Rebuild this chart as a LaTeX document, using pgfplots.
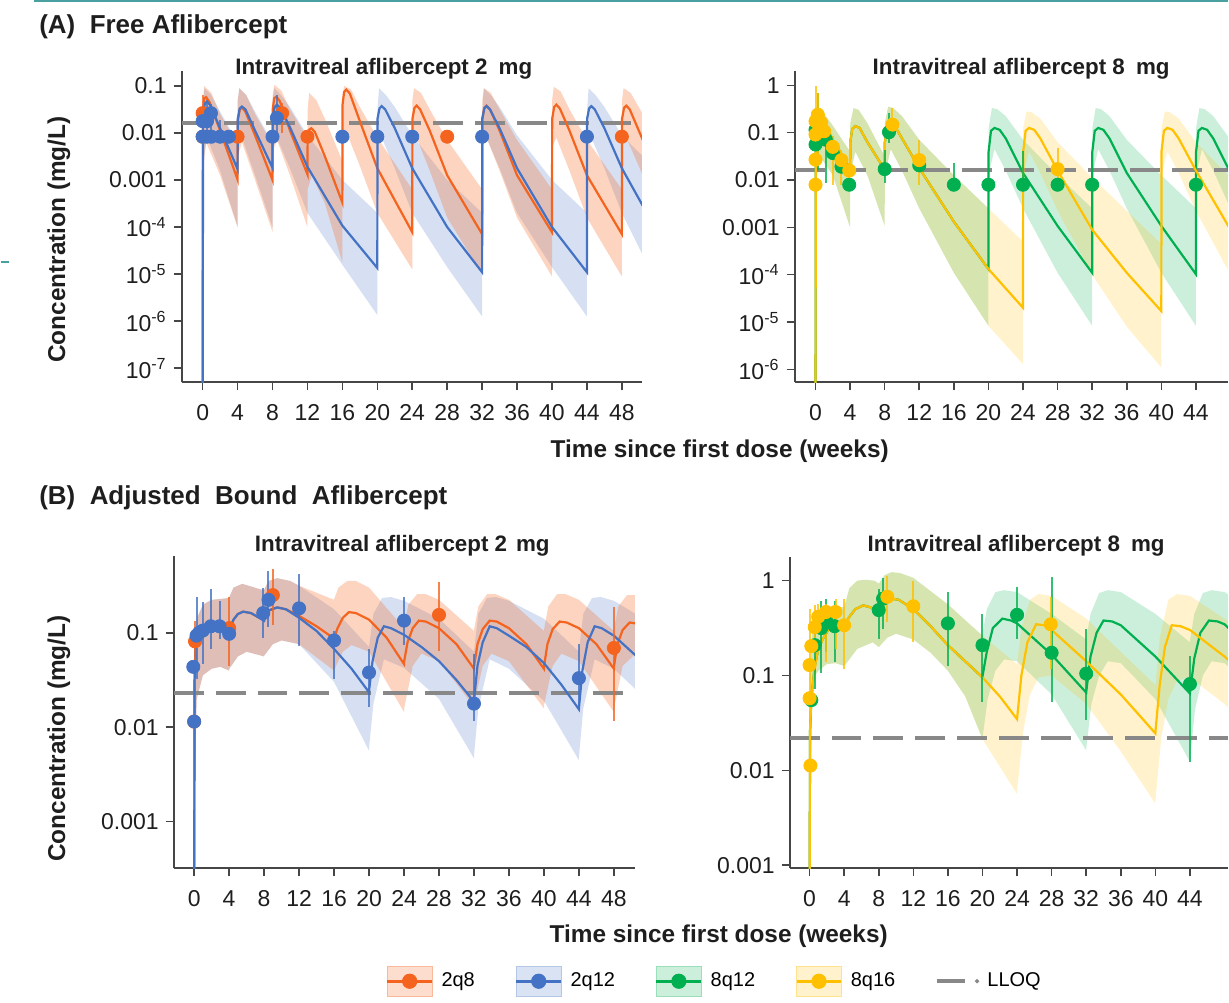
\documentclass[border=0pt]{standalone}
\usepackage{fontspec}
\setmainfont{Liberation Sans}
\usepackage{pgfplots}
\pgfplotsset{compat=1.18}

\definecolor{corange}{RGB}{244,100,30}
\definecolor{cblue}{RGB}{68,114,196}
\definecolor{cgreen}{RGB}{0,176,80}
\definecolor{cyellow}{RGB}{255,192,0}
\definecolor{axgray}{RGB}{70,70,70}
\definecolor{lloqgray}{RGB}{136,136,136}
\definecolor{txt}{RGB}{30,30,30}
\definecolor{tealline}{RGB}{72,160,160}

\newcommand\tickfont{\fontsize{11.5}{13}\selectfont}
\newcommand\legfont{\fontsize{10}{12}\selectfont}
\newcommand\titfont{\fontsize{11.2}{13}\selectfont\bfseries}
\newcommand\labfont{\fontsize{12.2}{14}\selectfont\bfseries}
\newcommand\panfont{\fontsize{13}{15}\selectfont\bfseries}

\pgfplotsset{
  pk/.style={scale only axis, anchor=south west, axis lines=left,
    axis line style={-, draw=axgray, line width=1pt},
    every tick/.append style={draw=axgray, line width=0.8pt},
    tick align=outside, major tick length=4pt,
    xtick={0,4,...,48},
    tick label style={font=\tickfont, text=txt},
    xticklabel style={yshift=-3.5pt},
    /pgf/number format/assume math mode=true},
  med/.style={color=#1, line width=1.1pt, forget plot},
  band/.style={fill=#1, fill opacity=0.25, draw=none, forget plot},
  lloq/.style={lloqgray, line width=2pt, dash pattern=on 15pt off 6pt, forget plot},
  mk/.style={only marks, mark=*, mark size=3.3pt, color=#1, forget plot,
    error bars/y dir=both, error bars/y explicit, error bars/error mark=none,
    error bars/error bar style={line width=1pt, opacity=0.8}},
}

\begin{document}
\begin{tikzpicture}
\path (0pt,0pt) rectangle (614.5pt,502pt);

% ---------------- (A) free, 2 mg ----------------
\begin{axis}[pk, at={(90.5pt,310.5pt)}, width=230.5pt, height=156pt,
  xmin=-2.4, xmax=50.29, ymin=-7.298, ymax=-0.681,
  ytick={-7,-6,-5,-4,-3,-2,-1},
  yticklabels={{10\textsuperscript{-7}},{10\textsuperscript{-6}},{10\textsuperscript{-5}},{10\textsuperscript{-4}},{0.001},{0.01},{0.1}}]
% 90% band, 2q12 (upper edge, then lower edge backwards)
\addplot[band=cblue, fill opacity=0.22] coordinates {(0,-3) (0.05,-1.5) (0.2,-1.05) (1,-1.2) (2,-1.55) (4,-2.2) (4.02,-1.3) (4.2,-1.05) (5,-1.2) (6,-1.55) (8,-2.2) (8.02,-1.3) (8.2,-1.05) (9,-1.2) (10,-1.45) (12,-2.05) (16,-3.0) (20,-3.7) (20.02,-1.5) (20.2,-1.05) (21,-1.2) (22,-1.45) (24,-2.05) (28,-3.0) (32,-3.7) (32.02,-1.5) (32.2,-1.05) (33,-1.2) (34,-1.45) (36,-2.05) (40,-3.0) (44,-3.7) (44.02,-1.5) (44.2,-1.05) (45,-1.2) (46,-1.45) (48,-2.05) (50.4,-2.5)
 (50.4,-4.6) (48,-3.7) (46,-2.75) (44.5,-2.1) (44.02,-2.3) (44,-5.9) (40,-4.85) (36,-3.7) (34,-2.75) (32.5,-2.1) (32.02,-2.3) (32,-5.9) (28,-4.85) (24,-3.7) (22,-2.75) (20.5,-2.1) (20.02,-2.3) (20,-5.87) (16,-4.8) (12,-3.7) (10,-2.75) (8.5,-2.1) (8.02,-2.3) (8,-4.0) (6,-2.9) (4.5,-2.1) (4.02,-2.3) (4,-4.0) (2,-2.8) (0.5,-2.1) (0.05,-2.6)} --cycle;
% 90% band, 2q8
\addplot[band=corange, fill opacity=0.28] coordinates {(0,-3) (0.05,-1.5) (0.15,-1.0) (1,-1.15) (2,-1.6) (4,-2.25) (4.02,-1.3) (4.2,-1.05) (5,-1.2) (6,-1.6) (8,-2.25) (8.02,-1.2) (8.2,-0.98) (9,-1.1) (10,-1.5) (12,-2.1) (12.02,-1.5) (12.2,-1.15) (13,-1.3) (14,-1.7) (16,-2.6) (16.02,-1.2) (16.2,-1.0) (17,-1.08) (18,-1.45) (20,-2.1) (24,-3.2) (24.02,-1.3) (24.2,-1.05) (25,-1.15) (26,-1.5) (28,-2.15) (32,-3.2) (32.02,-1.3) (32.2,-1.05) (33,-1.15) (34,-1.5) (36,-2.15) (40,-3.2) (40.02,-1.3) (40.2,-1.02) (41,-1.12) (42,-1.5) (44,-2.15) (48,-3.2) (48.02,-1.3) (48.2,-1.05) (49,-1.15) (50.4,-1.6)
 (50.4,-2.9) (48.5,-2.1) (48.02,-2.3) (48,-5.05) (44,-3.8) (42,-2.8) (40.5,-2.1) (40.02,-2.3) (40,-5.05) (36,-3.8) (34,-2.8) (32.5,-2.1) (32.02,-2.3) (32,-5.0) (28,-3.8) (26,-2.8) (24.5,-2.1) (24.02,-2.3) (24,-4.9) (20,-3.7) (18,-2.7) (16.5,-2.0) (16.02,-2.2) (16,-4.75) (14,-3.5) (12.5,-2.9) (12.02,-3.2) (12,-4.0) (10,-2.9) (8.5,-2.15) (8.02,-2.4) (8,-4.1) (6,-3.0) (4.5,-2.2) (4.02,-2.5) (4,-4.0) (2,-2.9) (0.4,-2.2) (0.05,-2.8)} --cycle;
\addplot[lloq] coordinates {(-2.4,-1.79) (50.3,-1.79)};
\addplot[med=corange] coordinates {(0,-8) (0.03,-1.5) (0.2,-1.26) (0.4,-1.24) (0.8,-1.35) (2,-1.95) (4,-2.99) (4.02,-1.75) (4.25,-1.5) (4.5,-1.46) (4.9,-1.55) (6,-2.05) (8,-3.0) (8.02,-1.5) (8.2,-1.26) (8.45,-1.23) (8.85,-1.33) (10,-1.95) (12,-2.88) (12.02,-2.2) (12.2,-1.93) (12.45,-1.9) (12.85,-1.98) (14,-2.5) (16,-3.48) (16.02,-1.4) (16.2,-1.13) (16.45,-1.08) (16.85,-1.16) (18,-1.75) (20,-2.75) (24,-4.11) (24.02,-1.7) (24.25,-1.47) (24.5,-1.42) (24.9,-1.5) (26,-1.95) (28,-2.9) (32,-4.15) (32.02,-1.7) (32.25,-1.47) (32.5,-1.42) (32.9,-1.5) (34,-1.95) (36,-2.9) (40,-4.11) (40.02,-1.7) (40.25,-1.45) (40.5,-1.40) (40.9,-1.48) (42,-1.95) (44,-2.9) (48,-4.15) (48.02,-1.7) (48.25,-1.47) (48.5,-1.42) (48.9,-1.5) (50.4,-2.15)};
\addplot[med=cblue] coordinates {(0,-8) (0.05,-1.6) (0.25,-1.38) (0.5,-1.33) (0.9,-1.42) (2,-1.9) (4,-2.77) (4.02,-1.7) (4.25,-1.48) (4.5,-1.44) (4.9,-1.5) (6,-1.95) (8,-2.74) (8.02,-1.65) (8.25,-1.45) (8.5,-1.40) (8.9,-1.47) (10,-1.88) (12,-2.72) (16,-3.97) (20,-4.87) (20.02,-1.7) (20.25,-1.48) (20.5,-1.43) (20.9,-1.5) (22,-1.9) (24,-2.75) (28,-4.0) (32,-4.96) (32.02,-1.7) (32.25,-1.48) (32.5,-1.43) (32.9,-1.5) (34,-1.9) (36,-2.75) (40,-4.0) (44,-4.96) (44.02,-1.7) (44.25,-1.48) (44.5,-1.43) (44.9,-1.5) (46,-1.9) (48,-2.75) (50.4,-3.55)};
\addplot[mk=corange] coordinates {(0,-2.08) +- (0,0) (0,-1.58) += (0,0.39) -= (0,0.3) (4,-2.08) +- (0,0) (9.1,-1.58) += (0,0.21) -= (0,0.42) (12,-2.08) +- (0,0) (28,-2.08) +- (0,0) (48,-2.08) +- (0,0)};
\addplot[mk=cblue] coordinates {(0,-2.08) +- (0,0) (0.5,-2.08) +- (0,0) (1.0,-2.08) +- (0,0) (2.0,-2.08) += (0,0.36) -= (0,0.06) (3.0,-2.08) +- (0,0) (8,-2.08) +- (0,0) (16,-2.08) +- (0,0) (20,-2.08) +- (0,0) (24,-2.08) +- (0,0) (32,-2.08) +- (0,0) (44,-2.08) +- (0,0) (0,-1.75) +- (0,0) (0.5,-1.75) += (0,0.45) -= (0,0.33) (0.95,-1.58) += (0,0.2) -= (0,0.5) (8.5,-1.68) += (0,0.49) -= (0,0.42)};
\end{axis}

% ---------------- (A) free, 8 mg ----------------
\begin{axis}[pk, at={(397.5pt,310.5pt)}, width=217pt, height=156pt,
  xmin=-2.42, xmax=47.69, ymin=-6.274, ymax=0.306, xtick={0,4,...,44},
  ytick={-6,-5,-4,-3,-2,-1,0},
  yticklabels={{10\textsuperscript{-6}},{10\textsuperscript{-5}},{10\textsuperscript{-4}},{0.001},{0.01},{0.1},{1}}]
\addplot[band=cgreen, fill opacity=0.2] coordinates {(0,-2) (0.05,-1.0) (0.2,-0.5) (1,-0.6) (2,-0.85) (4,-1.4) (4.02,-0.8) (4.4,-0.48) (5,-0.52) (6,-0.8) (8,-1.5) (8.02,-0.8) (8.4,-0.45) (9,-0.48) (10,-0.65) (12,-1.15) (16,-1.9) (20,-2.6) (20.02,-0.9) (20.4,-0.48) (21,-0.5) (22,-0.65) (24,-1.15) (28,-1.9) (32,-2.6) (32.02,-0.9) (32.4,-0.48) (33,-0.5) (34,-0.65) (36,-1.15) (40,-1.9) (44,-2.6) (44.02,-0.9) (44.4,-0.48) (45,-0.5) (46,-0.65) (48,-1.15) (50.4,-1.75)
 (50.4,-3.5) (48,-2.6) (46,-1.8) (44.7,-1.35) (44.02,-1.9) (44,-5.08) (40,-3.96) (36,-2.6) (34,-1.8) (32.7,-1.35) (32.02,-1.9) (32,-5.08) (28,-3.96) (24,-2.6) (22,-1.8) (20.7,-1.35) (20.02,-1.9) (20,-5.08) (16,-3.96) (12,-2.6) (10,-1.8) (8.7,-1.35) (8.02,-1.9) (8,-2.97) (6,-1.9) (4.6,-1.4) (4.02,-1.9) (4,-3.0) (2,-1.9) (0.5,-1.5) (0.05,-2.0)} --cycle;
\addplot[band=cyellow, fill opacity=0.2] coordinates {(0,-2) (0.05,-1.0) (0.2,-0.5) (1,-0.6) (2,-0.85) (4,-1.4) (4.02,-0.8) (4.4,-0.48) (5,-0.52) (6,-0.8) (8,-1.5) (8.02,-0.8) (8.4,-0.45) (9,-0.48) (10,-0.65) (12,-1.15) (16,-1.9) (20,-2.6) (24,-3.3) (24.02,-0.9) (24.4,-0.55) (25,-0.57) (26,-0.7) (28,-1.2) (32,-1.95) (36,-2.65) (40,-3.35) (40.02,-0.9) (40.4,-0.55) (41,-0.57) (42,-0.7) (44,-1.2) (48,-1.95) (50.4,-2.35)
 (50.4,-4.65) (48,-4.0) (44,-2.65) (42,-1.85) (40.7,-1.4) (40.02,-1.9) (40,-5.96) (36,-5.1) (32,-4.0) (28,-2.65) (26,-1.85) (24.7,-1.4) (24.02,-1.9) (24,-5.89) (20,-5.08) (16,-3.96) (12,-2.6) (10,-1.8) (8.7,-1.35) (8.02,-1.9) (8,-2.97) (6,-1.9) (4.6,-1.4) (4.02,-1.9) (4,-3.0) (2,-1.9) (0.5,-1.5) (0.05,-2.0)} --cycle;
\addplot[lloq] coordinates {(-2.42,-1.78) (50.4,-1.78)};
\addplot[med=cgreen] coordinates {(0,-8) (0.03,-1.2) (0.2,-0.78) (0.5,-0.72) (1,-0.8) (2,-1.15) (4,-1.75) (4.02,-1.2) (4.25,-0.92) (4.6,-0.86) (5.1,-0.9) (6,-1.2) (8,-1.78) (8.02,-1.2) (8.3,-0.92) (8.8,-0.86) (9.3,-0.9) (10,-1.12) (12,-1.75) (16,-2.88) (20,-3.88) (20.02,-1.4) (20.3,-0.96) (20.7,-0.9) (21.3,-0.94) (22,-1.12) (24,-1.85) (28,-2.97) (32,-3.96) (32.02,-1.4) (32.3,-0.96) (32.7,-0.9) (33.3,-0.94) (34,-1.12) (36,-1.85) (40,-2.97) (44,-3.99) (44.02,-1.4) (44.3,-0.96) (44.7,-0.9) (45.3,-0.94) (46,-1.12) (48,-1.85) (50.4,-2.6)};
\addplot[med=cyellow] coordinates {(0,-8) (0.03,-1.2) (0.2,-0.78) (0.5,-0.72) (1,-0.8) (2,-1.15) (4,-1.75) (4.02,-1.2) (4.25,-0.92) (4.6,-0.86) (5.1,-0.9) (6,-1.2) (8,-1.78) (8.02,-1.2) (8.3,-0.92) (8.8,-0.86) (9.3,-0.9) (10,-1.12) (12,-1.75) (16,-2.88) (20,-3.88) (24,-4.70) (24.02,-1.4) (24.3,-0.96) (24.7,-0.9) (25.3,-0.94) (26,-1.12) (28,-1.8) (32,-3.05) (36,-3.96) (40,-4.77) (40.02,-1.4) (40.3,-0.96) (40.7,-0.9) (41.3,-0.94) (42,-1.12) (44,-1.8) (48,-3.05) (50.4,-3.6)};
\addplot[mk=cgreen] coordinates {(0,-0.94) +- (0,0) (0,-1.25) +- (0,0) (0.3,-0.94) += (0,0.78) -= (0,0.84) (0.65,-1.11) +- (0,0) (1.2,-1.15) += (0,0.43) -= (0,0.91) (2,-1.43) +- (0,0) (3,-1.72) +- (0,0) (3.9,-2.10) +- (0,0) (8,-1.77) += (0,0.41) -= (0,0.29) (8.5,-0.99) += (0,0.41) -= (0,0.23) (12,-1.69) +- (0,0) (16,-2.10) += (0,0.46) -= (0,0) (20,-2.10) +- (0,0) (24,-2.10) += (0,0.71) -= (0,0) (28,-2.10) +- (0,0) (32,-2.10) +- (0,0) (44,-2.10) +- (0,0)};
\addplot[mk=cyellow] coordinates {(0,-2.10) +- (0,0) (0,-1.57) +- (0,0) (0,-1.04) += (0,1.02) -= (0,1.09) (0,-0.76) +- (0,0) (0.27,-0.62) += (0,0.46) -= (0,0.95) (0.65,-0.79) +- (0,0) (1.0,-0.97) +- (0,0) (2.0,-1.30) += (0,0.22) -= (0,0.8) (3.0,-1.58) += (0,0.22) -= (0,0.52) (3.9,-1.80) += (0,0.16) -= (0,0.19) (8.9,-0.83) += (0,0.35) -= (0,0.14) (12,-1.58) += (0,0.43) -= (0,0.52) (28,-1.77) += (0,0.45) -= (0,0.22)};
\end{axis}

% ---------------- (B) bound, 2 mg ----------------
\begin{axis}[pk, at={(86.5pt,67pt)}, width=231pt, height=156.5pt,
  xmin=-2.34, xmax=50.4, ymin=-3.497, ymax=-0.185,
  ytick={-3,-2,-1}, yticklabels={{0.001},{0.01},{0.1}},
  legend style={at={(0.4589,-0.361)}, anchor=west, draw=none, fill=none,
    inner sep=0pt, font=\legfont, legend columns=5,
    /tikz/every even column/.append style={column sep=18pt}},
  legend cell align=left]
\addplot[band=cblue, fill opacity=0.22] coordinates {(0,-3) (0.05,-1.2) (0.3,-0.85) (1,-0.7) (2,-0.65) (4,-0.63) (4.02,-0.62) (4.5,-0.52) (5.5,-0.48) (8,-0.55) (8.02,-0.54) (8.5,-0.45) (9.5,-0.42) (11,-0.45) (12,-0.5) (16,-0.75) (20,-1.15) (20.02,-1.13) (20.5,-0.8) (21.5,-0.63) (22.5,-0.62) (24,-0.66) (28,-0.85) (32,-1.2) (32.02,-1.18) (32.5,-0.8) (33.5,-0.63) (34.5,-0.62) (36,-0.66) (40,-0.85) (44,-1.2) (44.02,-1.18) (44.5,-0.8) (45.5,-0.63) (46.5,-0.62) (48,-0.66) (50.5,-0.8)
 (50.5,-1.6) (48,-1.38) (45.8,-1.28) (44.5,-1.8) (44.02,-2.3) (44,-2.35) (40,-1.72) (36,-1.38) (33.8,-1.28) (32.5,-1.8) (32.02,-2.28) (32,-2.33) (28,-1.7) (24,-1.37) (21.7,-1.28) (20.5,-1.75) (20.02,-2.2) (20,-2.25) (16,-1.52) (12,-1.12) (10,-1.08) (9,-1.12) (8.02,-1.24) (8,-1.25) (6,-1.2) (5,-1.25) (4.02,-1.38) (4,-1.4) (3,-1.36) (2,-1.38) (1,-1.45) (0.3,-1.7) (0.05,-2.5)} --cycle;
\addplot[band=corange, fill opacity=0.28] coordinates {(0,-3) (0.05,-1.2) (0.3,-0.85) (1,-0.7) (2,-0.65) (4,-0.63) (4.02,-0.62) (4.5,-0.52) (5.5,-0.48) (8,-0.55) (8.02,-0.54) (8.5,-0.45) (9.5,-0.42) (11,-0.45) (12,-0.5) (16,-0.65) (16.02,-0.64) (16.5,-0.52) (17.5,-0.45) (18.5,-0.45) (20,-0.52) (24,-0.95) (24.02,-0.93) (24.5,-0.7) (25.5,-0.59) (26.5,-0.59) (28,-0.65) (32,-0.98) (32.02,-0.96) (32.5,-0.72) (33.5,-0.59) (34.5,-0.59) (36,-0.65) (40,-0.98) (40.02,-0.96) (40.5,-0.72) (41.5,-0.59) (42.5,-0.59) (44,-0.65) (48,-0.98) (48.02,-0.96) (48.5,-0.72) (49.5,-0.6) (50.5,-0.6)
 (50.5,-1.22) (49,-1.35) (48.02,-1.8) (48,-1.84) (44,-1.3) (42,-1.22) (41,-1.35) (40.02,-1.76) (40,-1.8) (36,-1.3) (34,-1.22) (33,-1.35) (32.02,-1.75) (32,-1.78) (28,-1.3) (26,-1.22) (25,-1.35) (24.02,-1.8) (24,-1.84) (20,-1.2) (18,-1.13) (17,-1.2) (16.02,-1.39) (16,-1.4) (12,-1.12) (10,-1.08) (9,-1.12) (8.02,-1.24) (8,-1.25) (6,-1.2) (5,-1.25) (4.02,-1.38) (4,-1.4) (3,-1.36) (2,-1.38) (1,-1.45) (0.3,-1.7) (0.05,-2.5)} --cycle;
\addplot[lloq] coordinates {(-2.34,-1.64) (50.4,-1.64)};
\addplot[med=corange] coordinates {(0,-4) (0.05,-1.5) (0.15,-1.15) (0.4,-1.05) (1,-0.99) (2,-0.95) (2.7,-0.93) (3.5,-0.95) (4,-0.98) (4.02,-0.97) (4.5,-0.86) (5,-0.8) (5.6,-0.775) (6.5,-0.79) (8,-0.87) (8.02,-0.86) (8.6,-0.76) (9.5,-0.73) (10.5,-0.75) (12,-0.82) (14,-0.93) (16,-1.06) (16.02,-1.05) (16.4,-0.95) (17,-0.84) (17.7,-0.78) (18.5,-0.79) (20,-0.86) (22,-1.05) (24,-1.33) (24.02,-1.3) (24.4,-1.1) (25,-0.95) (25.7,-0.87) (26.5,-0.88) (28,-0.95) (30,-1.12) (32,-1.38) (32.02,-1.35) (32.4,-1.12) (33,-0.96) (33.8,-0.87) (34.6,-0.88) (36,-0.95) (38,-1.12) (40,-1.38) (40.02,-1.35) (40.4,-1.12) (41,-0.96) (41.8,-0.88) (42.6,-0.89) (44,-0.95) (46,-1.12) (48,-1.38) (48.02,-1.35) (48.4,-1.12) (49,-0.97) (49.8,-0.89) (50.5,-0.9)};
\addplot[med=cblue] coordinates {(0,-4) (0.05,-1.5) (0.15,-1.15) (0.4,-1.05) (1,-0.99) (2,-0.95) (2.7,-0.93) (3.5,-0.95) (4,-0.98) (4.02,-0.97) (4.5,-0.86) (5,-0.8) (5.6,-0.775) (6.5,-0.79) (8,-0.87) (8.02,-0.86) (8.6,-0.76) (9.5,-0.73) (10.5,-0.75) (12,-0.84) (14,-0.98) (16,-1.17) (18,-1.38) (20,-1.63) (20.02,-1.6) (20.4,-1.3) (21,-1.05) (21.7,-0.93) (22.5,-0.95) (24,-1.02) (26,-1.15) (28,-1.3) (30,-1.5) (32,-1.73) (32.02,-1.7) (32.4,-1.35) (33,-1.1) (33.8,-0.93) (34.6,-0.95) (36,-1.03) (38,-1.15) (40,-1.32) (42,-1.55) (44,-1.81) (44.02,-1.78) (44.4,-1.4) (45,-1.1) (45.8,-0.93) (46.6,-0.95) (48,-1.03) (50.5,-1.24)};
\addplot[mk=corange] coordinates {(0.1,-1.09) += (0,0.22) -= (0,0.26) (0,-1.94) +- (0,0) (4,-0.95) += (0,0.33) -= (0,0.40) (9,-0.60) += (0,0.28) -= (0,0.32) (28,-0.81) += (0,0.35) -= (0,0.38) (48,-1.16) += (0,0.43) -= (0,0.77)};
\addplot[mk=cblue] coordinates {(-0.1,-1.36) +- (0,0) (0,-1.94) +- (0,0) (0.27,-1.03) += (0,0.41) -= (0,0.46) (0.55,-1.0) +- (0,0) (1,-0.975) += (0,0.3) -= (0,0.35) (1.9,-0.93) += (0,0.4) -= (0,0.24) (2.9,-0.93) += (0,0.27) -= (0,0.13) (4,-1.01) +- (0,0) (7.9,-0.79) += (0,0.27) -= (0,0.26) (8.5,-0.65) += (0,0.31) -= (0,0.29) (12,-0.74) += (0,0.365) -= (0,0.395) (16,-1.08) += (0,0.105) -= (0,0.41) (20,-1.42) += (0,0.25) -= (0,0.37) (24,-0.87) += (0,0.25) -= (0,0.26) (32,-1.75) += (0,0.53) -= (0,0.18) (44,-1.48) += (0,0.36) -= (0,0.34)};
\addlegendimage{legend image code/.code={
  \draw[draw=corange!45, fill=corange!22, line width=0.5pt] (0pt,-7.5pt) rectangle (22.5pt,7.5pt);
  \draw[corange, line width=1.5pt] (0pt,0pt) -- (22.5pt,0pt);
  \fill[corange] (11.25pt,0pt) circle (3.6pt);
  \path (25pt,0pt);}}
\addlegendentry{2q8}
\addlegendimage{legend image code/.code={
  \draw[draw=cblue!40, fill=cblue!20, line width=0.5pt] (0pt,-7.5pt) rectangle (22.5pt,7.5pt);
  \draw[cblue, line width=1.5pt] (0pt,0pt) -- (22.5pt,0pt);
  \fill[cblue] (11.25pt,0pt) circle (3.6pt);
  \path (25pt,0pt);}}
\addlegendentry{2q12}
\addlegendimage{legend image code/.code={
  \draw[draw=cgreen!40, fill=cgreen!20, line width=0.5pt] (0pt,-7.5pt) rectangle (22.5pt,7.5pt);
  \draw[cgreen, line width=1.5pt] (0pt,0pt) -- (22.5pt,0pt);
  \fill[cgreen] (11.25pt,0pt) circle (3.6pt);
  \path (25pt,0pt);}}
\addlegendentry{8q12}
\addlegendimage{legend image code/.code={
  \draw[draw=cyellow!45, fill=cyellow!20, line width=0.5pt] (0pt,-7.5pt) rectangle (22.5pt,7.5pt);
  \draw[cyellow, line width=1.5pt] (0pt,0pt) -- (22.5pt,0pt);
  \fill[cyellow] (11.25pt,0pt) circle (3.6pt);
  \path (25pt,0pt);}}
\addlegendentry{8q16}
\addlegendimage{legend image code/.code={
  \draw[lloqgray, line width=2pt] (0pt,0pt) -- (14pt,0pt);
  \fill[lloqgray] (20pt,0pt) circle (0.9pt);
  \path (23pt,0pt);}}
\addlegendentry{LLOQ}
\end{axis}

% ---------------- (B) bound, 8 mg ----------------
\begin{axis}[pk, at={(395pt,67pt)}, width=219.5pt, height=156pt,
  xmin=-2.31, xmax=48.38, ymin=-3.035, ymax=0.25, xtick={0,4,...,44},
  ytick={-3,-2,-1,0}, yticklabels={{0.001},{0.01},{0.1},{1}}]
\addplot[band=cgreen, fill opacity=0.2] coordinates {(0,-3) (0.05,-1.0) (0.3,-0.55) (0.8,-0.35) (1.5,-0.28) (3,-0.27) (4,-0.28) (4.02,-0.27) (4.6,-0.08) (5.5,0.0) (6.5,0.01) (7.5,0.0) (8,-0.03) (8.02,-0.03) (8.7,0.06) (9.5,0.09) (10.5,0.08) (12,0.03) (16,-0.25) (20,-0.58) (20.02,-0.55) (20.5,-0.3) (21.5,-0.12) (22.5,-0.1) (24,-0.12) (28,-0.35) (32,-0.62) (32.02,-0.6) (32.5,-0.35) (33.5,-0.13) (34.5,-0.1) (36,-0.12) (40,-0.35) (44,-0.65) (44.02,-0.62) (44.5,-0.35) (45.5,-0.13) (46.5,-0.1) (48,-0.12) (51.1,-0.3)
 (51.1,-1.1) (48,-0.87) (46.5,-0.85) (45.5,-1.0) (44.6,-1.35) (44.02,-1.88) (44,-1.91) (40,-1.25) (36,-0.87) (34.5,-0.85) (33.5,-1.0) (32.6,-1.3) (32.02,-1.76) (32,-1.79) (28,-1.2) (24,-0.85) (22.5,-0.83) (21.5,-0.95) (20.6,-1.25) (20.02,-1.65) (20,-1.67) (18,-1.22) (16,-0.95) (14,-0.76) (12,-0.62) (10,-0.56) (9,-0.6) (8.02,-0.7) (8,-0.7) (7.3,-0.65) (5.5,-0.72) (4.02,-0.9) (4,-0.9) (3,-0.87) (2,-0.88) (1,-0.95) (0.4,-1.04) (0.05,-2.2)} --cycle;
\addplot[band=cyellow, fill opacity=0.2] coordinates {(0,-3) (0.05,-1.0) (0.3,-0.55) (0.8,-0.35) (1.5,-0.28) (3,-0.27) (4,-0.28) (4.02,-0.27) (4.6,-0.08) (5.5,0.0) (6.5,0.01) (7.5,0.0) (8,-0.03) (8.02,-0.03) (8.7,0.06) (9.5,0.09) (10.5,0.08) (12,0.03) (16,-0.25) (20,-0.58) (24,-0.88) (24.02,-0.86) (24.5,-0.5) (25.5,-0.2) (26.5,-0.14) (28,-0.16) (32,-0.4) (36,-0.75) (40,-1.1) (40.02,-1.08) (40.5,-0.6) (41.5,-0.2) (42.5,-0.14) (44,-0.16) (48,-0.4) (51.1,-0.62)
 (51.1,-1.6) (48,-1.3) (44,-1.02) (42.5,-1.05) (41.5,-1.25) (40.7,-1.65) (40.02,-2.3) (40,-2.35) (36,-1.8) (32,-1.3) (28,-1.0) (26.5,-1.02) (25.5,-1.2) (24.7,-1.6) (24.02,-2.2) (24,-2.25) (20,-1.67) (18,-1.22) (16,-0.95) (14,-0.76) (12,-0.62) (10,-0.56) (9,-0.6) (8.02,-0.7) (8,-0.7) (7.3,-0.65) (5.5,-0.72) (4.02,-0.9) (4,-0.9) (3,-0.87) (2,-0.88) (1,-0.95) (0.4,-1.04) (0.05,-2.2)} --cycle;
\addplot[lloq] coordinates {(-2.31,-1.66) (51.1,-1.66)};
\addplot[med=cgreen] coordinates {(0,-4) (0.05,-1.6) (0.2,-1.25) (0.6,-0.9) (1,-0.73) (1.5,-0.62) (2.3,-0.5) (3.1,-0.46) (4,-0.48) (4.02,-0.48) (4.6,-0.38) (5.3,-0.3) (6.2,-0.26) (7,-0.28) (8,-0.33) (8.02,-0.33) (8.6,-0.24) (9.4,-0.19) (10.3,-0.2) (12,-0.3) (14,-0.48) (16,-0.68) (18,-0.85) (20,-1.02) (20.02,-1.0) (20.5,-0.75) (21.2,-0.5) (22.3,-0.40) (23.3,-0.42) (24,-0.45) (28,-0.78) (32,-1.18) (32.02,-1.16) (32.5,-0.8) (33.2,-0.55) (34,-0.42) (35,-0.43) (36,-0.47) (40,-0.8) (44,-1.19) (44.02,-1.17) (44.5,-0.82) (45.2,-0.55) (46.2,-0.42) (47.2,-0.43) (48,-0.46) (51.1,-0.72)};
\addplot[med=cyellow] coordinates {(0,-4) (0.05,-1.6) (0.2,-1.25) (0.6,-0.9) (1,-0.73) (1.5,-0.62) (2.3,-0.5) (3.1,-0.46) (4,-0.48) (4.02,-0.48) (4.6,-0.38) (5.3,-0.3) (6.2,-0.26) (7,-0.28) (8,-0.33) (8.02,-0.33) (8.6,-0.24) (9.4,-0.19) (10.3,-0.2) (12,-0.3) (14,-0.48) (16,-0.68) (18,-0.85) (20,-1.02) (22,-1.22) (24,-1.46) (24.02,-1.44) (24.5,-1.0) (25.2,-0.65) (26.2,-0.46) (27.2,-0.47) (28,-0.52) (32,-0.85) (36,-1.2) (40,-1.61) (40.02,-1.58) (40.5,-1.1) (41.1,-0.7) (41.9,-0.47) (42.9,-0.48) (44,-0.52) (48,-0.8) (51.1,-1.05)};
\addplot[mk=cgreen] coordinates {(0.2,-1.26) +- (0,0) (0.6,-0.68) += (0,0.22) -= (0,0.46) (1.35,-0.50) += (0,0.29) -= (0,0.47) (1.9,-0.41) += (0,0.22) -= (0,0.34) (2.9,-0.48) += (0,0.27) -= (0,0.38) (8,-0.31) += (0,0.22) -= (0,0.30) (8.5,-0.19) += (0,0.22) -= (0,0.32) (16,-0.45) += (0,0.33) -= (0,0.45) (20,-0.68) += (0,0.33) -= (0,0.60) (24,-0.36) += (0,0.29) -= (0,0.25) (28,-0.76) += (0,0.80) -= (0,0.52) (32,-0.98) += (0,0.47) -= (0,0.49) (44,-1.09) += (0,0.30) -= (0,0.82)};
\addplot[mk=cyellow] coordinates {(0.1,-1.95) +- (0,0) (0,-1.24) +- (0,0) (0,-0.89) += (0,0.59) -= (0,0.57) (0.2,-0.69) +- (0,0) (0.6,-0.49) += (0,0.23) -= (0,0.23) (1.0,-0.38) += (0,0.13) -= (0,0.09) (1.9,-0.33) += (0,0.08) -= (0,0.53) (3.0,-0.33) += (0,0.14) -= (0,0.39) (4,-0.47) += (0,0.28) -= (0,0.46) (9,-0.17) += (0,0.22) -= (0,0.27) (12,-0.27) += (0,0.27) -= (0,0.38) (27.9,-0.46) += (0,0.29) -= (0,0.47)};
\end{axis}

% ---------------- texts ----------------
\draw[tealline, line width=1.2pt] (16.5pt,501.4pt) -- (614.5pt,501.4pt);
\draw[tealline, line width=1pt] (0pt,371pt) -- (4pt,371pt);
\node[anchor=west, font=\panfont, text=txt, inner sep=0pt] at (19pt,488.5pt) {(A)\ \ Free Aflibercept};
\node[anchor=west, font=\panfont, text=txt, inner sep=0pt] at (19pt,252.5pt) {(B)\ \ Adjusted\ \ Bound\ \ Aflibercept};
\node[anchor=base, font=\titfont, text=txt, inner sep=0pt] at (191.75pt,464.5pt) {Intravitreal aflibercept 2\hspace{0.5em}mg};
\node[anchor=base, font=\titfont, text=txt, inner sep=0pt] at (511pt,464.5pt) {Intravitreal aflibercept 8\hspace{0.5em}mg};
\node[anchor=base, font=\titfont, text=txt, inner sep=0pt] at (201pt,225.5pt) {Intravitreal aflibercept 2\hspace{0.4em}mg};
\node[anchor=base, font=\titfont, text=txt, inner sep=0pt] at (508.5pt,225.5pt) {Intravitreal aflibercept 8\hspace{0.5em}mg};
\node[rotate=90, font=\labfont, text=txt, inner sep=0pt] at (29pt,382pt) {Concentration (mg/L)};
\node[rotate=90, font=\labfont, text=txt, inner sep=0pt] at (29pt,132pt) {Concentration (mg/L)};
\node[font=\labfont, text=txt, inner sep=0pt] at (360pt,276pt) {Time since first dose (weeks)};
\node[font=\labfont, text=txt, inner sep=0pt] at (359.5pt,33pt) {Time since first dose (weeks)};
\end{tikzpicture}
\end{document}
